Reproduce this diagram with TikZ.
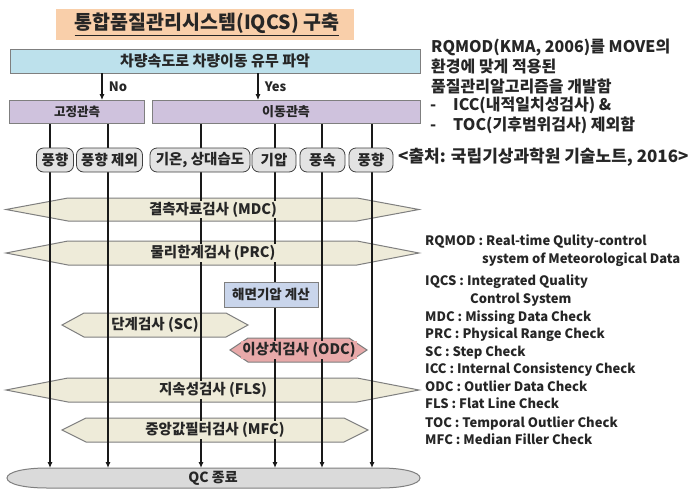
\documentclass[tikz,border=0pt]{standalone}
\usepackage{fontspec}
\setmainfont{Noto Sans CJK KR}
\usetikzlibrary{arrows.meta}
\pgfdeclarelayer{bg}
\pgfdeclarelayer{mid}
\pgfsetlayers{bg,mid,main}
\definecolor{titlebg}{HTML}{F9CFAA}
\definecolor{barbg}{HTML}{BDE1EC}
\definecolor{purp}{HTML}{CFC2DD}
\definecolor{rnd}{HTML}{E3E3E3}
\definecolor{hexbg}{HTML}{EEEBD9}
\definecolor{slp}{HTML}{C9D5EB}
\definecolor{odcbg}{HTML}{E8A9A9}
\definecolor{qcbg}{HTML}{DADADA}
\definecolor{txt}{HTML}{262626}
\definecolor{edge}{HTML}{7F7F7F}
\newcommand\hexbody[6]{% x0 x1 ytop ybot taper color
  \begin{pgfonlayer}{bg}
  \fill[#6,draw=edge,line width=1pt] (#1,{(#3+#4)/2}) -- (#1+#5,#3) -- (#2-#5,#3) -- (#2,{(#3+#4)/2}) -- (#2-#5,#4) -- (#1+#5,#4) -- cycle;
  \end{pgfonlayer}}
\begin{document}
\begin{tikzpicture}[x=1pt,y=-1pt,
  every node/.style={text=txt,font=\bfseries},
  boxst/.style={draw=edge,line width=0.8pt,minimum height=23pt,inner sep=0pt},
  rnode/.style={draw=black!75,fill=rnd,rounded corners=7pt,line width=0.8pt,minimum height=24pt,inner sep=1pt,font=\bfseries\fontsize{14.5}{14.5}\selectfont},
  hexlabel/.style={inner sep=1pt,font=\bfseries\fontsize{14.5}{14.5}\selectfont},
  vline/.style={line width=1.1pt,black!90,-{Latex[length=6pt,width=5pt]}},
  arr/.style={line width=1.1pt,black!90,-{Latex[length=6pt,width=5pt]}},
  rtext/.style={anchor=base west,inner sep=0pt,font=\bfseries\fontsize{16}{16}\selectfont},
  legend/.style={anchor=base west,inner sep=0pt,font=\bfseries\fontsize{13}{13}\selectfont}]
\begin{pgfonlayer}{bg}
\fill[white] (0,0) rectangle (697,491);
\end{pgfonlayer}
\useasboundingbox (0,0) rectangle (697,491);

% title
\node[fill=titlebg,minimum width=298pt,minimum height=31pt,inner sep=0pt] (title) at (205,24.5) {};
\node[inner sep=0pt,font=\bfseries\fontsize{19.5}{19.5}\selectfont] (titletext) at (207,23.5) {통합품질관리시스템(IQCS) 구축};
\draw[txt,line width=1.2pt] ([yshift=-1.5pt]titletext.south west) -- ([yshift=-1.5pt]titletext.south east);

% top bar
\node[boxst,fill=barbg,minimum width=410pt,minimum height=24pt] (bar) at (215,61) {\fontsize{15}{15}\selectfont 차량속도로 차량이동 유무 파악};
\node[boxst,fill=purp,minimum width=135pt] (fixed) at (77,112) {\fontsize{12.5}{12.5}\selectfont 고정관측};
\node[boxst,fill=purp,minimum width=268pt] (move) at (286,112) {\fontsize{13}{13}\selectfont 이동관측};
\draw[arr] (bar.south -| 102,0) -- (fixed.north -| 102,0) node[midway,right=3pt,font=\bfseries\fontsize{13}{13}\selectfont] (no) {No};
\draw[arr] (bar.south -| 258,0) -- (move.north -| 258,0) node[midway,right=3pt,font=\bfseries\fontsize{13}{13}\selectfont] (yes) {Yes};

% hexagon bodies
\hexbody{6}{419}{198}{221}{62}{hexbg}
\hexbody{6}{419}{241}{265}{62}{hexbg}
\hexbody{62}{248}{313}{337}{22}{hexbg}
\hexbody{230}{367}{338}{362}{18}{odcbg}
\hexbody{6}{419}{378}{402}{62}{hexbg}
\hexbody{62}{368}{418}{442}{24}{hexbg}

% QC
\begin{pgfonlayer}{bg}
\fill[qcbg,draw=edge,line width=1pt] (47,468) -- (380,468) .. controls (403,468) and (420,472) .. (420,478) .. controls (420,484) and (403,488) .. (380,488) -- (47,488) .. controls (24,488) and (7,484) .. (7,478) .. controls (7,472) and (24,468) .. (47,468) -- cycle;
\end{pgfonlayer}
\node[inner sep=1pt,font=\bfseries\fontsize{14}{14}\selectfont] (qc) at (213,478) {QC 종료};

% vertical connectors
\foreach \i/\x in {1/50,2/108,3/201,4/275,5/322,6/372}{
  \coordinate (top\i) at (\x,123);
  \coordinate (bot\i) at (\x,468);
}
\begin{pgfonlayer}{mid}
\foreach \i in {1,...,6}{\draw[vline] (top\i) -- (bot\i);}
\end{pgfonlayer}

% rounded nodes
\node[rnode,minimum width=37pt] (r1) at (55,160) {풍향};
\node[rnode,minimum width=66pt] (r2) at (109.5,160) {풍향 제외};
\node[rnode,minimum width=100pt] (r3) at (200,160) {기온, 상대습도};
\node[rnode,minimum width=44pt] (r4) at (274,160) {기압};
\node[rnode,minimum width=45pt] (r5) at (322.5,160) {풍속};
\node[rnode,minimum width=44pt] (r6) at (371,160) {풍향};

% hexagon labels
\node[hexlabel,fill=hexbg] (mdc) at (213,209.5) {결측자료검사 (MDC)};
\node[hexlabel,fill=hexbg] (prc) at (213,253) {물리한계검사 (PRC)};
\node[boxst,fill=slp,minimum width=94pt,minimum height=25pt,font=\bfseries\fontsize{13.5}{13.5}\selectfont] (slpbox) at (271,294.5) {해면기압 계산};
\node[hexlabel,fill=hexbg] (sc) at (155,325) {단계검사 (SC)};
\node[hexlabel,fill=odcbg] (odc) at (299,350) {이상치검사 (ODC)};
\node[hexlabel,fill=hexbg] (fls) at (213,390) {지속성검사 (FLS)};
\node[hexlabel,fill=hexbg] (mfc) at (215,430) {중앙값필터검사 (MFC)};

% right text
\node[rtext] (t1) at (431,52) {RQMOD(KMA, 2006)를 MOVE의};
\node[rtext] (t2) at (431,72) {환경에 맞게 적용된};
\node[rtext] (t3) at (431,92) {품질관리알고리즘을 개발함};
\node[rtext] (t4a) at (430,110) {-};
\node[rtext] (t4) at (453,110) {ICC(내적일치성검사) \&};
\node[rtext] (t5a) at (430,130) {-};
\node[rtext] (t5) at (453,130) {TOC(기후범위검사) 제외함};
\node[rtext,font=\bfseries\fontsize{17}{17}\selectfont] (t6) at (398,162) {<출처: 국립기상과학원 기술노트, 2016>};

% legend
\node[legend] (g1) at (425,245) {RQMOD : Real-time Qulity-control};
\node[legend] (g2) at (482,263) {system of Meteorological Data};
\node[legend] (g3) at (425,285) {IQCS : Integrated Quality};
\node[legend] (g4) at (470,303) {Control System};
\node[legend] (g5) at (425,321) {MDC : Missing Data Check};
\node[legend] (g6) at (425,338) {PRC : Physical Range Check};
\node[legend] (g7) at (425,356) {SC : Step Check};
\node[legend] (g8) at (425,373) {ICC : Internal Consistency Check};
\node[legend] (g9) at (425,391) {ODC : Outlier Data Check};
\node[legend] (g10) at (425,408) {FLS : Flat Line Check};
\node[legend] (g11) at (425,427) {TOC : Temporal Outlier Check};
\node[legend] (g12) at (425,444) {MFC : Median Filler Check};
\end{tikzpicture}
\end{document}
